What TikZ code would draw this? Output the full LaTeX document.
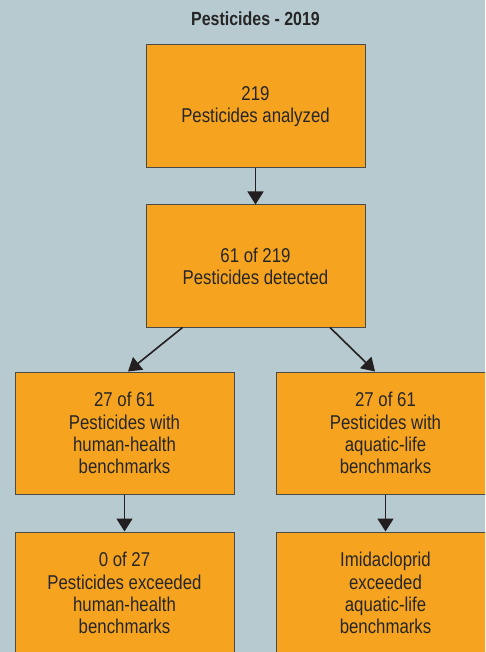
\documentclass[tikz,border=0pt]{standalone}
\usepackage{fontspec}
\setmainfont[FakeStretch=0.84]{Liberation Sans}
\usetikzlibrary{arrows.meta}
\definecolor{bgblue}{HTML}{B7CAD0}
\definecolor{boxorange}{HTML}{F6A41F}
\definecolor{edgegray}{HTML}{4A4A48}
\definecolor{arrowblack}{HTML}{231F20}
\tikzset{
	box/.style={draw=edgegray,line width=1pt,fill=boxorange,minimum width=219pt,minimum height=122pt,
		align=center,inner sep=0pt,font=\fontsize{20}{22.2}\selectfont,text=black!85},
	arr/.style={arrowblack,line width=1.6pt,-{Triangle[width=16pt,length=13pt]}}
}
\begin{document}
\begin{tikzpicture}[x=1pt,y=-1pt]
		\fill[bgblue] (0,0) rectangle (485,652);
		\clip (0,0) rectangle (485,652);
		\node[font=\bfseries\fontsize{19}{22}\selectfont,text=black!85] (title) at (255.5,19) {Pesticides - 2019};
		\node[box,minimum height=123pt] (analyzed) at (255.5,106.5) {219\\Pesticides analyzed};
		\node[box] (detected) at (255.5,266) {61 of 219\\Pesticides detected};
		\node[box] (withhh) at (124.5,433) {27 of 61\\Pesticides with\\human-health\\benchmarks};
		\node[box] (withal) at (385.5,433) {27 of 61\\Pesticides with\\aquatic-life\\benchmarks};
		\node[box] (exceedhh) at (124.5,593) {0 of 27\\Pesticides exceeded\\human-health\\benchmarks};
		\node[box] (exceedal) at (385.5,593) {Imidacloprid\\exceeded\\aquatic-life\\benchmarks};
		\draw[arr] (analyzed) -- (detected);
		\draw[arr] ([xshift=-73pt]detected.south) -- ([xshift=3.5pt]withhh.north);
		\draw[arr] ([xshift=74.5pt]detected.south) -- ([xshift=-10.5pt]withal.north);
		\draw[arr] (withhh) -- (exceedhh);
		\draw[arr] (withal) -- (exceedal);
			\end{tikzpicture}
\end{document}
